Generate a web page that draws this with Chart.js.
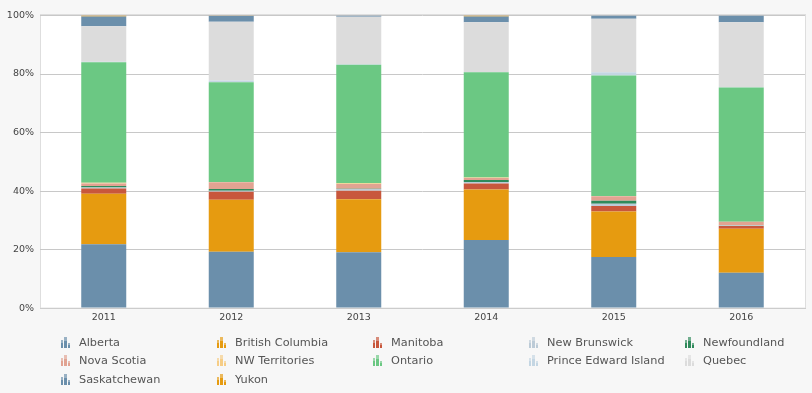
<!DOCTYPE html>
<html>
<head>
<meta charset="utf-8">
<script src="https://cdn.jsdelivr.net/npm/chart.js@4"></script>
<style>
  html, body { margin: 0; padding: 0; background: #f7f7f7; }
  #wrap { position: relative; width: 812px; height: 393px; overflow: hidden; }
  #chart { position: absolute; left: 0; top: 0; }
  #legend {
    position: absolute; left: 61px; top: 333px;
    display: grid; grid-template-columns: repeat(5, 156px);
    grid-auto-rows: 18.6px;
    font-family: "DejaVu Sans", Verdana, sans-serif; font-size: 11.3px; color: #555;
  }
  .item { display: flex; align-items: center; white-space: nowrap; }
  .icon { display: flex; align-items: flex-end; width: 10px; height: 11px; margin-right: 8px; }
  .icon span { display: block; width: 2.6px; margin-right: 0.9px; }
</style>
</head>
<body>
<div id="wrap">
  <canvas id="chart" width="812" height="393"></canvas>
  <div id="legend"></div>
</div>
<script>
// years on the x axis
const years = ['2011', '2012', '2013', '2014', '2015', '2016'];

// share of each province per year (%)
const alberta      = [21.8, 19.3, 19.1, 23.3, 17.5, 12.1];
const britishCol   = [17.3, 17.7, 18.1, 17.2, 15.5, 15.0];
const manitoba     = [1.8, 2.8, 2.9, 2.1, 1.9, 1.0];
const newBrunswick = [0.3, 0.3, 0.6, 0.5, 0.8, 0.1];
const newfoundland = [0.5, 0.6, 0.1, 0.7, 1.0, 0.1];
const novaScotia   = [0.9, 2.3, 1.6, 0.7, 1.5, 1.2];
const nwTerr       = [0.2, 0.1, 0.3, 0.1, 0.1, 0.0];
const ontario      = [41.2, 34.1, 40.5, 36.0, 41.2, 45.9];
const pei          = [0.2, 0.6, 0.1, 0.1, 1.1, 0.1];
const quebec       = [12.1, 20.1, 16.3, 17.0, 18.3, 22.2];
const saskatchewan = [3.4, 2.0, 0.4, 2.0, 1.1, 2.3];
const yukon        = [0.3, 0.1, 0.0, 0.3, 0.0, 0.0];

const yTicks = [0, 20, 40, 60, 80, 100];

const series = [
    ['Alberta', alberta, '#6b8fab'],
    ['British Columbia', britishCol, '#e69b10'],
    ['Manitoba', manitoba, '#c8573c'],
    ['New Brunswick', newBrunswick, '#bccbd7'],
    ['Newfoundland', newfoundland, '#2f8a5b'],
    ['Nova Scotia', novaScotia, '#e1a392'],
    ['NW Territories', nwTerr, '#f6cd86'],
    ['Ontario', ontario, '#6bc883'],
    ['Prince Edward Island', pei, '#c4d6e3'],
    ['Quebec', quebec, '#dcdcdc'],
    ['Saskatchewan', saskatchewan, '#6b8fab'],
    ['Yukon', yukon, '#e69b10']
];

// white plot area with a thin frame
const plotBg = {
    id: 'plotBg',
    beforeDraw(chart) {
        const {ctx, chartArea: a} = chart;
        ctx.save();
        ctx.fillStyle = '#ffffff';
        ctx.fillRect(a.left, a.top - 1.5, a.right - a.left, a.bottom - a.top + 1.5);
        ctx.strokeStyle = '#dedede';
        ctx.lineWidth = 1;
        ctx.strokeRect(a.left + 0.5, a.top - 1, a.right - a.left, a.bottom - a.top + 1);
        ctx.restore();
    }
};

const chart = new Chart(document.getElementById('chart'), {
    type: 'bar',
    data: {
        labels: years,
        datasets: series.map(s => ({
            label: s[0],
            data: s[1],
            backgroundColor: s[2],
            borderWidth: 0,
            categoryPercentage: 1,
            barPercentage: 0.353
        }))
    },
    options: {
        responsive: false,
        animation: false,
        layout: { padding: { top: 15.5, right: 7, bottom: 65.5, left: 0 } },
        plugins: { legend: { display: false }, tooltip: { enabled: false } },
        scales: {
            x: {
                stacked: true,
                grid: { display: false, drawTicks: false },
                border: { color: '#cccccc' },
                ticks: { color: '#444', padding: 4, font: { family: 'DejaVu Sans', size: 9.5 } }
            },
            y: {
                stacked: true,
                min: 0, max: 100,
                afterBuildTicks(scale) { scale.ticks = yTicks.map(v => ({value: v})); },
                afterFit(scale) { scale.width = 40; },
                grid: { color: '#c8c8c8', drawTicks: false },
                border: { display: false },
                ticks: {
                    color: '#444', padding: 6,
                    font: { family: 'DejaVu Sans', size: 9.5 },
                    callback: v => v + '%'
                }
            }
        }
    },
    plugins: [plotBg]
});

// legend laid out in five columns
const legend = document.getElementById('legend');
chart.data.datasets.forEach(ds => {
    const item = document.createElement('div');
    item.className = 'item';
    const icon = document.createElement('div');
    icon.className = 'icon';
    [8, 11, 5].forEach(h => {
        const b = document.createElement('span');
        b.style.height = h + 'px';
        b.style.background = 'linear-gradient(' + ds.backgroundColor + 'aa 0 40%, ' + ds.backgroundColor + ' 40%)';
        icon.appendChild(b);
    });
    const txt = document.createElement('span');
    txt.textContent = ds.label;
    item.appendChild(icon);
    item.appendChild(txt);
    legend.appendChild(item);
});
</script>
</body>
</html>
